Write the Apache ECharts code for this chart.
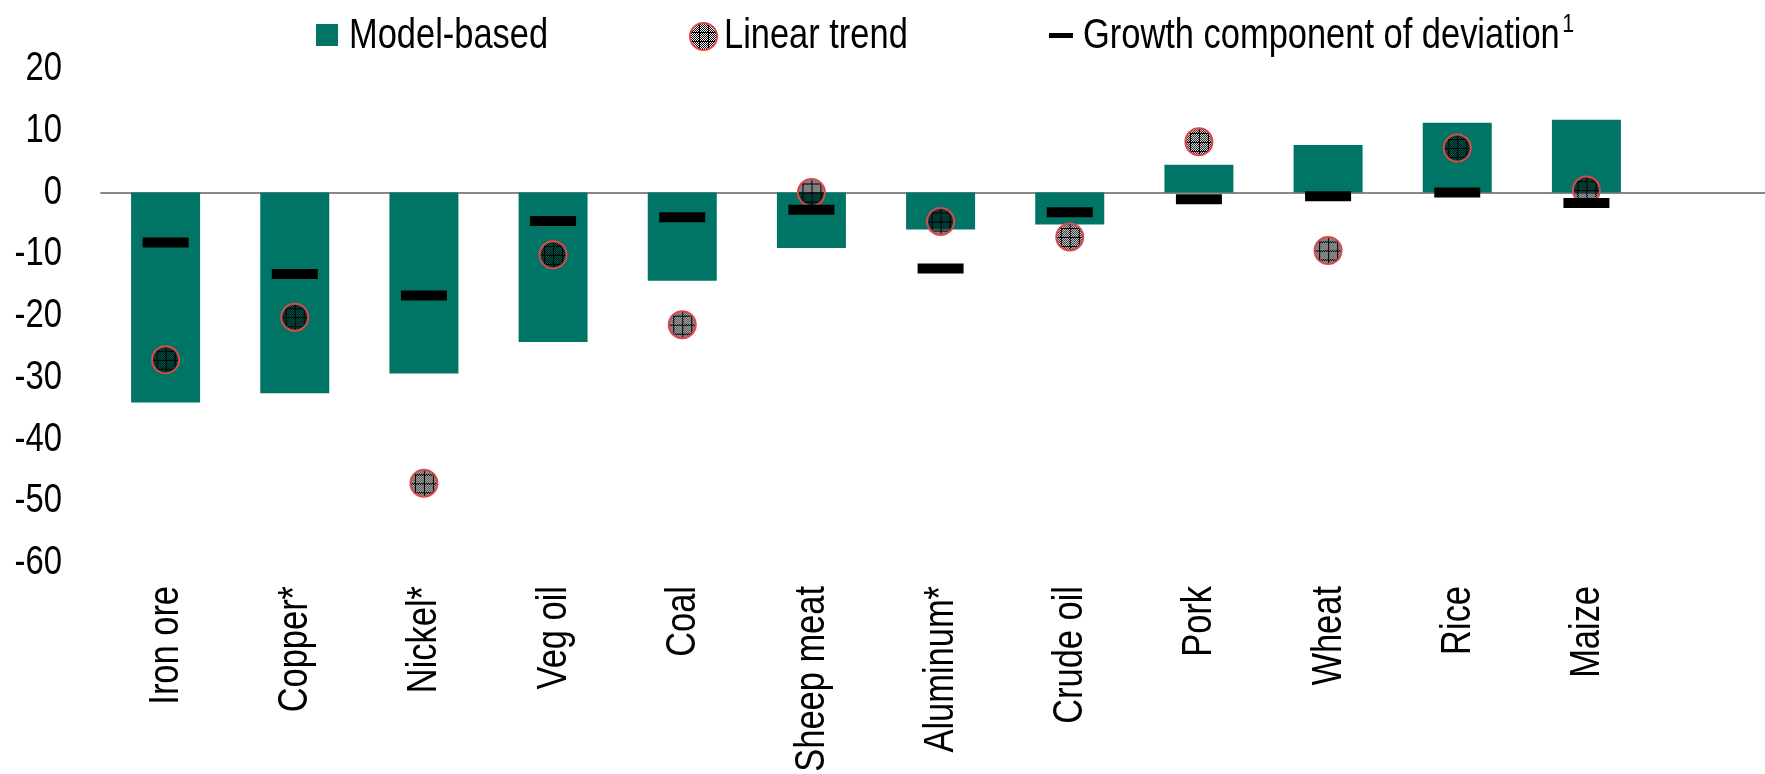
<!DOCTYPE html>
<html>
<head>
<meta charset="utf-8">
<script src="https://cdn.jsdelivr.net/npm/echarts@6/dist/echarts.min.js"></script>
<style>
  html, body { margin: 0; padding: 0; background: #fff; }
  #chart { width: 1765px; height: 774px; }
</style>
</head>
<body>
<div id="chart"></div>
<script>
const categories = ['Iron ore', 'Copper*', 'Nickel*', 'Veg oil', 'Coal', 'Sheep meat', 'Aluminum*', 'Crude oil', 'Pork', 'Wheat', 'Rice', 'Maize'];
const modelBased = [-34, -32.5, -29.3, -24.2, -14.3, -9, -6, -5.2, 4.5, 7.7, 11.3, 11.8];
const linearTrend = [-27.1, -20.2, -47.1, -10.1, -21.4, 0, -4.7, -7.2, 8.2, -9.4, 7.2, 0.4];
const growthComponent = [-8.1, -13.2, -16.7, -4.6, -4.0, -2.8, -12.3, -3.2, -1.1, -0.6, 0, -1.7];
const yTicks = [20, 10, 0, -10, -20, -30, -40, -50, -60];
const yMin = -60, yMax = 20, yInterval = 10;
const seriesNames = ['Model-based', 'Linear trend', 'Growth component of deviation'];

const FONT = "'Liberation Sans', Arial, sans-serif";
const NARROW = 0.82;   // horizontal squeeze to mimic a narrow face

// hatch pattern for the linear-trend markers
const tile = document.createElement('canvas');
tile.width = 9; tile.height = 9;
const tctx = tile.getContext('2d');
tctx.fillStyle = '#000';
for (let i = 0; i < 9; i++) for (let j = 0; j < 9; j++) if ((i + j) % 2 === 0) tctx.fillRect(i, j, 1, 1);
tctx.fillRect(0, 0, 9, 1);
tctx.fillRect(0, 0, 1, 9);
const SYM = 27;
const hatchLegend = { image: tile, repeat: 'repeat' };
const hatchSymbol = { image: tile, repeat: 'repeat', scaleX: 2 / SYM, scaleY: 2 / SYM };

const chart = echarts.init(document.getElementById('chart'), null, { renderer: 'canvas' });
const noText = function () { return ''; };
chart.setOption({
  animation: false,
  backgroundColor: '#fff',
  legend: [
    { data: [seriesNames[0]], left: 316, top: 24, padding: 0, itemWidth: 22, itemHeight: 22, icon: 'rect', formatter: noText },
    { data: [{ name: seriesNames[1], itemStyle: { color: hatchLegend, borderColor: '#e0474c', borderWidth: 2 } }],
      left: 689, top: 22, padding: 0, itemWidth: 27, itemHeight: 27, icon: 'circle', formatter: noText },
    { data: [seriesNames[2]], left: 1049, top: 33, padding: 0, itemWidth: 24, itemHeight: 5, icon: 'rect', formatter: noText }
  ],
  grid: [
    { left: 101, top: 69, width: 1550, height: 494, containLabel: false, outerBoundsMode: 'none' },
    { left: 101, top: 69, right: 0, height: 494, containLabel: false, outerBoundsMode: 'none' }
  ],
  xAxis: [
    { type: 'category', gridIndex: 0, data: categories,
      axisLine: { show: false }, axisTick: { show: false }, axisLabel: { show: false } },
    { type: 'value', gridIndex: 1, min: 0, max: 1,
      axisLine: { show: true, onZero: true, lineStyle: { color: '#888', width: 2 } },
      axisTick: { show: false }, axisLabel: { show: false }, splitLine: { show: false } }
  ],
  yAxis: [
    { type: 'value', gridIndex: 0, min: yMin, max: yMax, interval: yInterval,
      axisLine: { show: false }, axisTick: { show: false }, splitLine: { show: false },
      axisLabel: { show: false } },
    { type: 'value', gridIndex: 1, min: yMin, max: yMax, interval: yInterval,
      axisLine: { show: false }, axisTick: { show: false }, splitLine: { show: false },
      axisLabel: { show: false } }
  ],
  series: [
    { name: seriesNames[0], type: 'bar', xAxisIndex: 0, yAxisIndex: 0, data: modelBased,
      barWidth: 69, itemStyle: { color: '#007465' }, z: 2 },
    { name: seriesNames[1], type: 'scatter', xAxisIndex: 0, yAxisIndex: 0, data: linearTrend,
      symbol: 'circle', symbolSize: SYM,
      itemStyle: { color: hatchSymbol, borderColor: '#e0474c', borderWidth: 2, opacity: 1 }, z: 3 },
    { name: seriesNames[2], type: 'scatter', xAxisIndex: 0, yAxisIndex: 0, data: growthComponent,
      symbol: 'rect', symbolSize: [46, 10],
      itemStyle: { color: '#000', opacity: 1 }, z: 4 }
  ]
});

// Text drawn as graphic text so it can be horizontally condensed (narrow face is not installed).
const graphics = [];
yTicks.forEach(function (v) {
  const py = chart.convertToPixel({ yAxisIndex: 0 }, v);
  graphics.push({ type: 'text', x: 62, y: py, scaleX: NARROW, z: 10,
    style: { text: String(v), fontFamily: FONT, fontSize: 40, fill: '#000', align: 'right', verticalAlign: 'middle' } });
});
categories.forEach(function (c, i) {
  const px = chart.convertToPixel({ xAxisIndex: 0 }, i);
  graphics.push({ type: 'text', x: px + 1, y: 586, rotation: Math.PI / 2, scaleX: NARROW, z: 10,
    style: { text: c, fontFamily: FONT, fontSize: 42, fill: '#000', align: 'right', verticalAlign: 'middle' } });
});
const legendTextX = [349, 724, 1083];
seriesNames.forEach(function (n, i) {
  const isLast = i === 2;
  graphics.push({ type: 'text', x: legendTextX[i], y: 36, scaleX: NARROW, z: 10,
    style: isLast ? {
      text: '{m|' + n + '}{s|1}', fill: '#000', align: 'left', verticalAlign: 'middle',
      rich: { m: { fontFamily: FONT, fontSize: 42, lineHeight: 48, fill: '#000' },
              s: { fontFamily: FONT, fontSize: 26, lineHeight: 26, fill: '#000', verticalAlign: 'top', padding: [0, 0, 0, 3] } }
    } : { text: n, fontFamily: FONT, fontSize: 42, fill: '#000', align: 'left', verticalAlign: 'middle' } });
});
chart.setOption({ graphic: graphics });
</script>
</body>
</html>
